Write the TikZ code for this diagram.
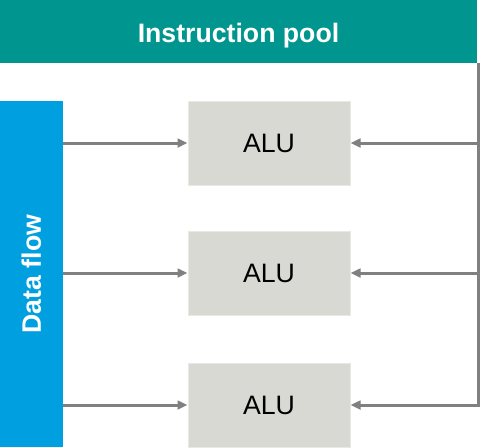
\documentclass[tikz,border=0pt]{standalone}
\usepackage{fontspec}
\setmainfont{Liberation Sans}
\usetikzlibrary{arrows.meta}
\definecolor{poolcol}{RGB}{0,150,143}
\definecolor{flowcol}{RGB}{0,160,224}
\definecolor{alucol}{RGB}{217,217,212}
\definecolor{alulinecol}{RGB}{232,232,228}
\definecolor{wirecol}{RGB}{128,128,128}
\tikzset{
  bar/.style={rectangle,inner sep=0pt,text=white,font=\fontsize{20}{24}\selectfont\bfseries},
  alubox/.style={rectangle,draw=alulinecol,fill=alucol,line width=0.75pt,inner sep=0pt,
    minimum width=121.5pt,minimum height=63pt,font=\fontsize{20}{24}\selectfont},
  wire/.style={draw=wirecol,line width=2.25pt,-{Triangle[length=7.5pt,width=6.5pt]}}
}
\begin{document}
\begin{tikzpicture}[x=0.75pt,y=-0.75pt]
		%%
  \useasboundingbox (0,0) rectangle (481,447);
  \node (pool) at (238.5,31.5) [bar,fill=poolcol,minimum width=357.75pt,minimum height=47.25pt] {};
  \node (pooltext) at (238.5,32.5) [bar,text depth=0pt] {Instruction pool};
  \node (flow) at (31.25,274) [bar,fill=flowcol,minimum width=46.9pt,minimum height=259.5pt] {};
  \node (flowtext) at (flow.center) [bar,rotate=90] {Data flow};
  \node (alu1) at (269,143) [alubox] {ALU};
  \node (alu2) at (269,273) [alubox] {ALU};
  \node (alu3) at (269,405) [alubox] {ALU};
  \coordinate (bus) at (478.5,405);
  % data flow into the ALUs
  \draw [wire] (flow.east |- alu1) -- (alu1.west);
  \draw [wire] (flow.east |- alu2) -- (alu2.west);
  \draw [wire] (flow.east |- alu3) -- (alu3.west);
  % instructions from the pool
  \draw [wire] (pool.south -| bus) -- (bus) -- (alu3.east);
  \draw [wire] (bus |- alu1) -- (alu1.east);
  \draw [wire] (bus |- alu2) -- (alu2.east);
		%
	\end{tikzpicture}
\end{document}
